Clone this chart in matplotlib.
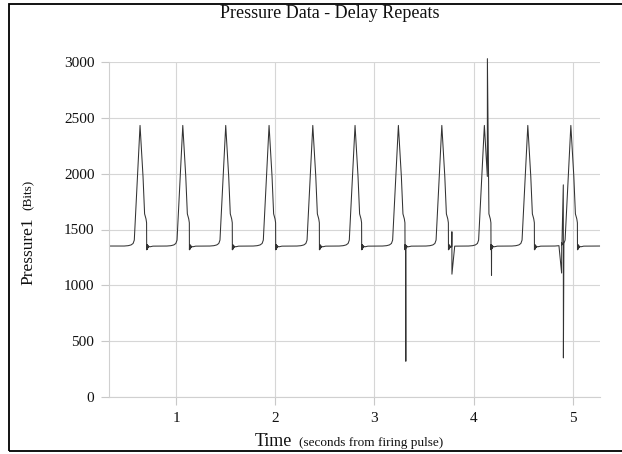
import matplotlib
matplotlib.use("Agg")
import matplotlib.pyplot as plt
from matplotlib.patches import Rectangle

plt.rcParams['font.family'] = ['Liberation Serif', 'DejaVu Serif']

# times (s) of each pressure pulse peak
peak_times = [0.637, 1.068, 1.501, 1.938, 2.379, 2.805, 3.242, 3.680, 4.109, 4.547, 4.981]
# shape of one pulse: time offset from its peak and pressure reading
pulse_offsets = [-0.16, -0.12, -0.09, -0.07, -0.058, 0.0, 0.030, 0.046, 0.060, 0.066,
                 0.067, 0.069, 0.071, 0.073, 0.075, 0.077, 0.079, 0.082, 0.085, 0.090,
                 0.100, 0.130]
pulse_values = [1352, 1355, 1362, 1375, 1405, 2432, 1975, 1640, 1595, 1560,
                1318, 1366, 1322, 1362, 1328, 1358, 1334, 1354, 1340, 1349,
                1345, 1351]
# glitches in the trace
spike_times = [3.317, 3.7815, 3.782, 4.1395, 4.181, 4.888, 4.889, 4.905, 4.906]
spike_values = [320, 1480, 1100, 3030, 1090, 1110, 1380, 1900, 350]
# trace ends
end_times = [0.33, 5.27]
end_values = [1352, 1352]

pts = list(zip(end_times, end_values)) + list(zip(spike_times, spike_values))
for tp in peak_times:
    for off, v in zip(pulse_offsets, pulse_values):
        pts.append((tp + off, v))
pts.sort()
t = [p[0] for p in pts]
p = [p[1] for p in pts]

W, H = 622, 454
fig = plt.figure(figsize=(W / 100, H / 100), dpi=100)
ax = fig.add_axes([109 / W, 1 - 397 / H, (600 - 109) / W, (397 - 62) / H])

ax.plot(t, p, color='#333333', lw=0.75, clip_on=False)

ax.set_xlim(0.324, 5.275)
ax.set_ylim(0, 3000)
ax.set_xticks([1, 2, 3, 4, 5])
ax.set_yticks(range(0, 3001, 500))
ax.grid(True, color='#d6d6d6', lw=0.8)
ax.set_axisbelow(True)
for s in ['top', 'right']:
    ax.spines[s].set_visible(False)
for s in ['left', 'bottom']:
    ax.spines[s].set_color('#d0d0d0')
    ax.spines[s].set_linewidth(0.8)
ax.tick_params(colors='#c8c8c8', length=5.5, width=0.8, labelsize=11,
               labelcolor='#111111', pad=5)

def fx(px):
    return px / W

def fy(py):
    return 1 - py / H

fig.text(fx(330), fy(14), 'Pressure Data - Delay Repeats', ha='center', va='center',
         fontsize=13, color='#111111')
fig.text(fx(292), fy(446), 'Time', ha='right', va='baseline', fontsize=13, color='#111111')
fig.text(fx(299), fy(446), '(seconds from firing pulse)', ha='left', va='baseline',
         fontsize=9.5, color='#111111')
fig.text(fx(32), fy(285), 'Pressure1', rotation=90, rotation_mode='anchor',
         ha='left', va='baseline', fontsize=12.5, color='#111111')
fig.text(fx(32), fy(210), '(Bits)', rotation=90, rotation_mode='anchor',
         ha='left', va='baseline', fontsize=9.5, color='#111111')

fig.add_artist(Rectangle((fx(9), fy(451)), 1.0, fy(4) - fy(451), transform=fig.transFigure,
                         fill=False, ec='black', lw=1.3))

fig.savefig('out.png', dpi=100)
